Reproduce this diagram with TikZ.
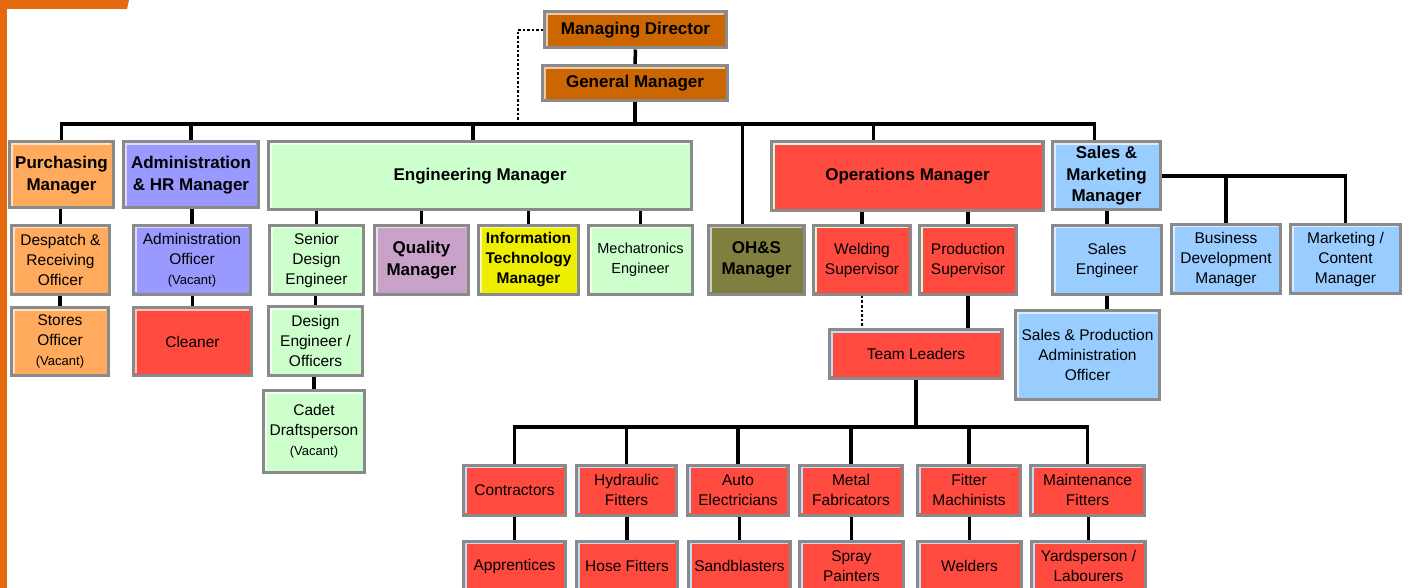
\documentclass[tikz,border=0pt]{standalone}
\usepackage{fontspec}
\setmainfont{Liberation Sans}
\usetikzlibrary{calc}

\definecolor{pageorange}{HTML}{E4690F}
\definecolor{dirorange}{HTML}{CC6600}
\definecolor{purorange}{HTML}{FFAA5C}
\definecolor{hrpurple}{HTML}{9999FF}
\definecolor{enggreen}{HTML}{CCFFCC}
\definecolor{qualmauve}{HTML}{C8A2C8}
\definecolor{ityellow}{HTML}{EEEE00}
\definecolor{ohsolive}{HTML}{7F7F3F}
\definecolor{opsred}{HTML}{FF4A40}
\definecolor{salesblue}{HTML}{99CCFF}
\definecolor{boxframe}{HTML}{8A8A8A}
\definecolor{hlblue}{HTML}{BFDDF8}
\definecolor{hlgreen}{HTML}{E2F6DA}

\newcommand{\mgrfont}{\fontsize{17}{21.5}\selectfont\bfseries}
\newcommand{\itfont}{\fontsize{15.5}{20}\selectfont\bfseries}
\newcommand{\stafffont}{\fontsize{15.5}{20}\selectfont}
\newcommand{\vacfont}{\fontsize{13}{17}\selectfont}

\pgfdeclarelayer{bg}
\pgfsetlayers{bg,main}

\tikzset{
  hl/.code={\colorlet{hlc}{#1}},
  box/.style={rectangle, draw=boxframe, line width=3pt, fill=#1, align=center,
    inner sep=0pt, font=\stafffont, hl=white!65!#1,
    path picture={\draw[hlc, line width=1.5pt]
      ([shift={(2.25pt,2.25pt)}]path picture bounding box.south west) |-
      ([shift={(-2.25pt,-2.25pt)}]path picture bounding box.north east);}},
  mgr/.style={box=#1, font=\mgrfont},
  sz/.style 2 args={minimum width=#1pt, minimum height=#2pt},
  conn/.style={line width=3.5pt, black},
  dotline/.style={line width=2.5pt, black, dash pattern=on 2.5pt off 2pt},
}

\begin{document}
\begin{tikzpicture}[x=1pt,y=-1pt]
\useasboundingbox (0,0) rectangle (1409,588);
\clip (0,0) rectangle (1409,588);

% page corner
\fill[pageorange] (0,0) rectangle (7,588);
\fill[pageorange] (0,0) -- (129,0) -- (127,9) -- (0,9) -- cycle;

% top
\node[mgr=dirorange, sz={182}{36}] (md) at (635.5,30) {Managing Director};
\node[mgr=dirorange, sz={185}{35}] (gm) at (635,83.5) {General Manager};

% managers
\node[mgr=purorange, sz={104}{66}] (pur) at (61.5,175) {Purchasing\\Manager};
\node[mgr=hrpurple, sz={135}{66}] (hr) at (191,175) {Administration\\\& HR Manager};
\node[mgr=enggreen, sz={423}{68}] (eng) at (480,176) {Engineering Manager};
\node[mgr=opsred, hl=hlgreen, sz={272}{69}] (ops) at (907.5,176.5) {Operations Manager};
\node[mgr=salesblue, sz={108}{68}] (sm) at (1106.5,176) {Sales \&\\Marketing\\Manager};

% second row
\node[box=purorange, sz={98}{69}] (desp) at (60.5,260) {Despatch \&\\Receiving\\Officer};
\node[box=hrpurple, sz={117}{69}] (adof) at (192,260) {Administration\\Officer\\{\vacfont(Vacant)}};
\node[box=enggreen, sz={94}{69}] (sde) at (316.5,260) {Senior\\Design\\Engineer};
\node[mgr=qualmauve, sz={94}{69}] (qm) at (421.5,260) {Quality\\Manager};
\node[box=ityellow, font=\itfont, sz={100}{69}] (itm) at (528.5,260) {Information\\Technology\\Manager};
\node[box=enggreen, font=\fontsize{14.5}{20}\selectfont, sz={104}{69}] (mech) at (640.5,260) {Mechatronics\\Engineer};
\node[mgr=ohsolive, sz={96}{69}] (ohs) at (756.5,260) {OH\&S\\Manager};
\node[box=opsred, hl=hlgreen, sz={97}{69}] (weld) at (862,260) {Welding\\Supervisor};
\node[box=opsred, hl=hlgreen, sz={97}{69}] (prod) at (968,260) {Production\\Supervisor};
\node[box=salesblue, sz={109}{69}] (se) at (1107,260) {Sales\\Engineer};
\node[box=salesblue, sz={109}{69}] (bdm) at (1226,259) {Business\\Development\\Manager};
\node[box=salesblue, sz={110}{69}] (mcm) at (1345.5,259) {Marketing /\\Content\\Manager};

% third row
\node[box=purorange, sz={97}{68}] (stores) at (60,341.5) {Stores\\Officer\\{\vacfont(Vacant)}};
\node[box=opsred, sz={118}{68}] (clean) at (192.5,341.5) {Cleaner};
\node[box=enggreen, sz={94}{69}] (deo) at (315.5,341) {Design\\Engineer /\\Officers};
\node[box=enggreen, sz={101}{82}] (cadet) at (314,431.5) {Cadet\\Draftsperson\\{\vacfont(Vacant)}};
\node[box=opsred, hl=hlblue, sz={173}{49}] (tl) at (916,354) {Team Leaders};
\node[box=salesblue, sz={144}{89}] (spao) at (1087.5,355) {Sales \& Production\\Administration\\Officer};

% trades
\node[box=opsred, hl=hlblue, sz={102}{50}] (con) at (514.5,490) {Contractors};
\node[box=opsred, hl=hlblue, sz={100}{50}] (hyd) at (626.5,490) {Hydraulic\\Fitters};
\node[box=opsred, hl=hlblue, sz={101}{50}] (auto) at (738,490) {Auto\\Electricians};
\node[box=opsred, hl=hlblue, sz={103}{50}] (metal) at (851,490) {Metal\\Fabricators};
\node[box=opsred, hl=hlblue, sz={103}{50}] (fit) at (969,490) {Fitter\\Machinists};
\node[box=opsred, hl=hlblue, sz={114}{50}] (maint) at (1087.5,490) {Maintenance\\Fitters};

\node[box=opsred, hl=hlblue, sz={102}{50}] (app) at (514.5,566) {Apprentices};
\node[box=opsred, hl=hlblue, sz={101}{50}] (hose) at (627,566) {Hose Fitters};
\node[box=opsred, hl=hlblue, sz={102}{50}] (sand) at (739.5,566) {Sandblasters};
\node[box=opsred, hl=hlblue, sz={104}{50}] (spray) at (851.5,566) {Spray\\Painters};
\node[box=opsred, hl=hlblue, sz={104}{50}] (weldr) at (969.5,566) {Welders};
\node[box=opsred, hl=hlblue, sz={114}{50}] (yard) at (1088.5,566) {Yardsperson /\\Labourers};

\begin{pgfonlayer}{bg}
\coordinate (bus) at (0,124);
\coordinate (bus2) at (0,427);
\coordinate (dotend) at (518,124);
\coordinate (engtop) at ([xshift=-7pt]eng.north);
\coordinate (ohstop) at ([xshift=-14pt]ohs.north);
\coordinate (opstop) at ([xshift=-34pt]ops.north);
\coordinate (smtop) at ([xshift=-12pt]sm.north);

\draw[conn] (md.south) -- (gm.north);
\draw[dotline] (md.west) -| (dotend);
\draw[conn] (gm.south) -- (gm.south |- bus);
\draw[conn] (pur.north) -- (pur.north |- bus) -| (smtop);
\foreach \n in {hr.north,engtop,ohstop,opstop}
  \draw[conn] (\n) -- (\n |- bus);

\foreach \a/\b in {pur/desp,desp/stores,hr/adof,adof/clean,eng/sde,eng/qm,eng/itm,eng/mech,sde/deo,deo/cadet,ops/weld,ops/prod,sm/se}
  \draw[conn] (\b.north) -- (\b.north |- \a.south);
\draw[conn] (se.south) -- (se.south |- spao.north);
\draw[conn] (sm.east) -| (mcm.north);
\draw[conn] (bdm.north) -- (bdm.north |- sm.east);

\draw[dotline] (weld.south) -- (weld.south |- tl.north);
\draw[conn] (prod.south) -- (prod.south |- tl.north);
\draw[conn] (tl.south) -- (tl.south |- bus2);
\draw[conn] (con.north) -- (con.north |- bus2) -| (maint.north);
\foreach \b in {hyd,auto,metal,fit}
  \draw[conn] (\b.north) -- (\b.north |- bus2);
\foreach \a/\b in {con/app,hyd/hose,auto/sand,metal/spray,fit/weldr,maint/yard}
  \draw[conn] (\b.north) -- (\b.north |- \a.south);
\end{pgfonlayer}
\end{tikzpicture}
\end{document}
